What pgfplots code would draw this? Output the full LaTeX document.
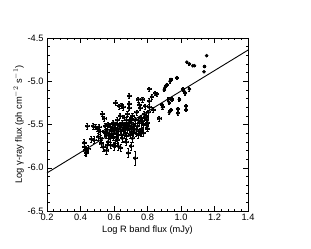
\documentclass[border=0pt]{standalone}
\usepackage{pgfplots}
\pgfplotsset{compat=1.18}
\usepackage{pgfplotstable}
\usepackage{fontspec}
\setmainfont{Liberation Sans}
\pgfplotstableread{
x y ex ey
0.420 -5.71 0.012 0.04
0.425 -5.76 0.012 0.04
0.430 -5.80 0.012 0.05
0.435 -5.83 0.012 0.04
0.445 -5.78 0.012 0.04
0.440 -5.52 0.012 0.03
0.465 -5.67 0.012 0.03
0.475 -5.52 0.012 0.03
0.490 -5.53 0.012 0.03
0.500 -5.55 0.012 0.03
0.505 -5.64 0.012 0.04
0.510 -5.53 0.012 0.03
0.520 -5.66 0.012 0.04
0.525 -5.72 0.012 0.04
0.535 -5.76 0.012 0.05
0.530 -5.38 0.012 0.03
0.540 -5.43 0.012 0.03
0.545 -5.60 0.012 0.04
0.550 -5.58 0.012 0.04
0.555 -5.62 0.012 0.04
0.560 -5.74 0.012 0.04
0.555 -5.80 0.012 0.04
0.560 -5.56 0.012 0.04
0.565 -5.50 0.012 0.03
0.570 -5.60 0.012 0.04
0.575 -5.66 0.012 0.04
0.580 -5.74 0.012 0.04
0.585 -5.57 0.012 0.04
0.590 -5.53 0.012 0.03
0.595 -5.48 0.012 0.03
0.595 -5.64 0.012 0.04
0.600 -5.75 0.012 0.05
0.600 -5.57 0.012 0.04
0.605 -5.72 0.012 0.04
0.610 -5.50 0.012 0.03
0.610 -5.25 0.012 0.03
0.615 -5.60 0.012 0.04
0.620 -5.45 0.012 0.03
0.620 -5.68 0.012 0.04
0.625 -5.75 0.012 0.05
0.630 -5.52 0.012 0.03
0.630 -5.29 0.012 0.03
0.635 -5.40 0.012 0.03
0.640 -5.56 0.012 0.04
0.640 -5.77 0.012 0.04
0.645 -5.28 0.012 0.03
0.645 -5.62 0.012 0.04
0.650 -5.48 0.012 0.03
0.650 -5.66 0.012 0.04
0.655 -5.30 0.012 0.03
0.660 -5.55 0.012 0.04
0.660 -5.42 0.012 0.03
0.665 -5.60 0.012 0.04
0.670 -5.50 0.012 0.03
0.670 -5.70 0.012 0.04
0.675 -5.45 0.012 0.03
0.680 -5.56 0.012 0.04
0.680 -5.38 0.012 0.03
0.685 -5.83 0.012 0.05
0.690 -5.17 0.012 0.03
0.690 -5.26 0.012 0.03
0.690 -5.31 0.012 0.03
0.690 -5.48 0.012 0.03
0.695 -5.62 0.012 0.04
0.700 -5.75 0.012 0.05
0.700 -5.52 0.012 0.03
0.700 -5.44 0.012 0.03
0.705 -5.58 0.012 0.04
0.710 -5.40 0.012 0.03
0.710 -5.66 0.012 0.04
0.715 -5.50 0.012 0.03
0.720 -5.55 0.012 0.04
0.725 -5.89 0.012 0.08
0.725 -5.45 0.012 0.03
0.730 -5.60 0.012 0.04
0.735 -5.36 0.012 0.03
0.740 -5.52 0.012 0.03
0.745 -5.21 0.012 0.03
0.745 -5.62 0.012 0.04
0.750 -5.27 0.012 0.03
0.750 -5.48 0.012 0.03
0.755 -5.31 0.012 0.03
0.755 -5.58 0.012 0.04
0.760 -5.42 0.012 0.03
0.765 -5.55 0.012 0.04
0.770 -5.21 0.012 0.03
0.770 -5.46 0.012 0.03
0.775 -5.60 0.012 0.04
0.780 -5.38 0.012 0.03
0.785 -5.29 0.012 0.03
0.790 -5.50 0.012 0.03
0.795 -5.44 0.012 0.03
0.800 -5.55 0.012 0.03
0.800 -5.48 0.012 0.03
0.805 -5.36 0.012 0.03
0.810 -5.09 0.010 0.02
0.810 -5.23 0.010 0.03
0.810 -5.30 0.010 0.03
0.825 -5.18 0.010 0.03
0.835 -5.33 0.010 0.03
0.845 -5.14 0.010 0.02
0.855 -5.15 0.010 0.02
0.870 -5.43 0.010 0.03
0.885 -5.27 0.010 0.02
0.890 -5.30 0.010 0.02
0.900 -5.10 0.008 0.02
0.905 -5.07 0.008 0.02
0.915 -5.04 0.008 0.02
0.925 -5.21 0.008 0.02
0.930 -5.25 0.008 0.02
0.930 -5.36 0.008 0.02
0.935 -5.00 0.008 0.02
0.940 -4.98 0.008 0.02
0.940 -5.33 0.008 0.02
0.945 -5.21 0.008 0.02
0.975 -4.96 0.008 0.02
0.980 -5.32 0.008 0.02
0.980 -5.37 0.008 0.02
0.990 -5.21 0.008 0.02
1.010 -5.09 0.008 0.02
1.020 -5.12 0.008 0.02
1.025 -5.14 0.008 0.02
1.030 -5.29 0.008 0.02
1.030 -5.33 0.008 0.02
1.035 -4.78 0.004 0.01
1.050 -4.80 0.004 0.01
1.050 -5.09 0.008 0.02
1.070 -4.82 0.004 0.01
1.080 -4.82 0.004 0.01
1.140 -4.83 0.004 0.01
1.137 -4.89 0.004 0.01
1.153 -4.705 0.004 0.01
0.575 -5.52 0.012 0.03
0.585 -5.62 0.012 0.04
0.605 -5.54 0.012 0.03
0.615 -5.65 0.012 0.04
0.625 -5.58 0.012 0.04
0.635 -5.50 0.012 0.03
0.655 -5.57 0.012 0.04
0.665 -5.52 0.012 0.03
0.675 -5.63 0.012 0.04
0.685 -5.54 0.012 0.03
0.695 -5.45 0.012 0.03
0.715 -5.60 0.012 0.04
0.735 -5.56 0.012 0.04
0.745 -5.45 0.012 0.03
0.760 -5.60 0.012 0.04
0.775 -5.50 0.012 0.03
0.790 -5.42 0.012 0.03
0.565 -5.70 0.012 0.04
0.545 -5.52 0.012 0.03
0.480 -5.68 0.012 0.04
0.515 -5.58 0.012 0.03
}\datatable
\begin{document}
\begin{tikzpicture}
\useasboundingbox (-47bp,-38bp) rectangle (264bp,211bp);
\begin{axis}[
  at={(0,0)}, anchor=south west,
  scale only axis,
  width=201bp, height=173bp,
  xmin=0.2, xmax=1.4, ymin=-6.5, ymax=-4.5,
  xtick={0.2,0.4,...,1.4},
  ytick={-6.5,-6.0,...,-4.5},
  minor x tick num=4, minor y tick num=4,
  tick align=inside,
  major tick length=5bp, minor tick length=2.5bp,
  axis line style={black, line width=0.6pt},
  tick style={black, line width=0.5pt},
  xticklabel style={/pgf/number format/fixed, /pgf/number format/precision=1, /pgf/number format/fixed zerofill},
  yticklabel style={/pgf/number format/fixed, /pgf/number format/precision=1, /pgf/number format/fixed zerofill},
  /pgf/number format/assume math mode=true,
  tick label style={font=\fontsize{9.3}{10}\selectfont},
  label style={font=\fontsize{9.3}{10}\selectfont},
  xlabel={Log R band flux (mJy)},
  ylabel={Log γ-ray flux (ph cm$^{-2}$ s$^{-1}$)},
  xlabel style={yshift=2bp},
  ylabel style={yshift=-3bp},
  clip=false,
]
\addplot[only marks, mark=*, mark size=1.6bp, black,
  error bars/.cd, x dir=both, y dir=both, x explicit, y explicit,
  error bar style={line width=0.45pt, black},
  error mark options={rotate=90, mark size=1.1bp, line width=0.45pt}]
  table[x=x, y=y, x error=ex, y error=ey] {\datatable};
\addplot[black, line width=0.9pt] coordinates {(0.2,-6.06) (1.4,-4.64)};
\end{axis}
\end{tikzpicture}
\end{document}
